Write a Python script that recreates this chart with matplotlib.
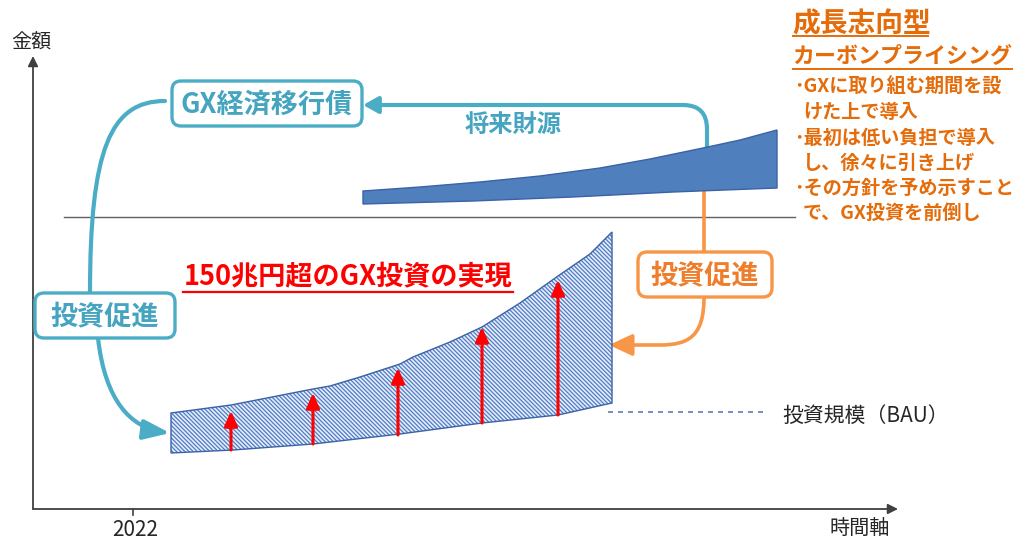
import matplotlib
matplotlib.use('Agg')
import matplotlib.pyplot as plt
from matplotlib.patches import FancyBboxPatch, FancyArrowPatch
from matplotlib.path import Path

plt.rcParams['font.family'] = ['Noto Sans CJK JP', 'DejaVu Sans']
plt.rcParams['hatch.linewidth'] = 0.9

# ---------------- data (diagram units) ----------------
# GX investment band (hatched)
gx_upper_x = [171, 231, 313, 330, 360, 400, 413, 450, 482, 520, 558, 590, 612]
gx_upper_y = [413, 405, 389, 386, 377, 364, 357, 342, 327, 303, 276, 254, 232]
bau_x = [171, 233, 313, 400, 482, 558, 612]
bau_y = [453, 450, 444, 434, 423, 415, 403]

# future funding band (solid)
fund_upper_x = [363, 420, 480, 540, 600, 650, 703, 740, 777]
fund_upper_y = [191, 187, 182, 176, 168, 159, 148, 140, 130]
fund_lower_x = [363, 473, 573, 673, 777]
fund_lower_y = [204, 201, 197, 192, 188]

# red arrows (increase of investment)
arrow_x = [231, 313, 398, 482, 558]
arrow_base = [450, 444, 435, 423, 415]
arrow_tip = [411, 393, 368, 327, 280]

tick_label = '2022'
y_label = '金額'
x_label = '時間軸'
bau_label = '投資規模（BAU）'
bond_label = 'GX経済移行債'
fund_label = '将来財源'
promote_label = '投資促進'
title_label = '150兆円超のGX投資の実現'
cp_title = ['成長志向型', 'カーボンプライシング']
cp_lines = ['･GXに取り組む期間を設', 'けた上で導入', '･最初は低い負担で導入',
            'し、徐々に引き上げ', '･その方針を予め示すこと', 'で、GX投資を前倒し']

TEAL = '#4bacc6'
TEAL_TXT = '#45a5c0'
ORANGE = '#f79646'
ORANGE_TXT = '#e46c0a'
BLUE = '#4f7fbc'
BLUE_EDGE = '#3a62a6'
DARK = '#262626'

fig = plt.figure(figsize=(10.16, 5.39), dpi=100)
ax = fig.add_axes([0, 0, 1, 1])
ax.set_xlim(0, 1016)
ax.set_ylim(539, 0)
ax.axis('off')

# ---------------- axes of the diagram ----------------
ax.add_patch(FancyArrowPatch((33, 509), (33, 56), arrowstyle='-|>,head_length=0.6,head_width=0.3',
                             mutation_scale=10, lw=1.3, color='#404040', shrinkA=0, shrinkB=0))
ax.add_patch(FancyArrowPatch((33, 509), (898, 509), arrowstyle='-|>,head_length=0.6,head_width=0.3',
                             mutation_scale=10, lw=1.3, color='#404040', shrinkA=0, shrinkB=0))
ax.plot([133, 133], [509, 515], color='#404040', lw=1.2)
ax.text(135, 530, tick_label, ha='center', va='center', fontsize=15, color=DARK)
ax.text(31, 43, y_label, ha='center', va='center', fontsize=14.5, color=DARK)
ax.text(860, 528, x_label, ha='center', va='center', fontsize=14.5, color=DARK)

# divider line
ax.plot([64, 795], [217, 217], color='#606060', lw=1.0)

# ---------------- bands ----------------
ax.fill(fund_upper_x + fund_lower_x[::-1], fund_upper_y + fund_lower_y[::-1],
        facecolor=BLUE, edgecolor=BLUE_EDGE, lw=1.0, zorder=3)

gx_poly_x = gx_upper_x + bau_x[::-1]
gx_poly_y = gx_upper_y + bau_y[::-1]
ax.fill(gx_poly_x, gx_poly_y, facecolor='#e6edf8', edgecolor='#4f7cc6', hatch='\\' * 8,
        lw=0, zorder=3)
ax.fill(gx_poly_x, gx_poly_y, facecolor='none', edgecolor=BLUE_EDGE, lw=1.0, zorder=3)

for x, b, t in zip(arrow_x, arrow_base, arrow_tip):
    ax.add_patch(FancyArrowPatch((x, b), (x, t), arrowstyle='-|>,head_length=0.9,head_width=0.4',
                                 mutation_scale=10, lw=2.2, color='#ff0000', shrinkA=0, shrinkB=0,
                                 zorder=5))

# BAU dashed line
ax.plot([608, 765], [412, 412], color='#5b7db1', lw=1.2, dashes=(3, 3))
ax.text(782, 416, bau_label, ha='left', va='center', fontsize=15, color=DARK)

# ---------------- teal connectors ----------------
top_path = Path([(707, 148), (707, 129), (707, 105), (683, 105), (363, 105)],
                [Path.MOVETO, Path.LINETO, Path.CURVE3, Path.CURVE3, Path.LINETO])
ax.add_patch(FancyArrowPatch(path=top_path, arrowstyle='-|>,head_length=0.9,head_width=0.5',
                             mutation_scale=10, lw=3, color=TEAL, shrinkA=0, shrinkB=0, zorder=2))
ax.text(513, 125, fund_label, ha='center', va='center', fontsize=17.5, fontweight='bold', color=TEAL_TXT)

left_path = Path([(165, 101), (110, 101), (90, 150), (90, 293)],
                 [Path.MOVETO, Path.CURVE4, Path.CURVE4, Path.CURVE4])
ax.add_patch(FancyArrowPatch(path=left_path, arrowstyle='-', lw=3, color=TEAL, zorder=2))
low_path = Path([(98, 338), (105, 400), (130, 428), (170, 433)],
                [Path.MOVETO, Path.CURVE4, Path.CURVE4, Path.CURVE4])
ax.add_patch(FancyArrowPatch(path=low_path, arrowstyle='-|>,head_length=1.6,head_width=0.6',
                             mutation_scale=10, lw=3, color=TEAL, shrinkA=0, shrinkB=0, zorder=2))

# ---------------- orange connector ----------------
ax.plot([704, 704], [192, 252], color=ORANGE, lw=2.6, zorder=2)
or_path = Path([(704, 297), (704, 335), (690, 345), (660, 345), (609, 345)],
               [Path.MOVETO, Path.CURVE4, Path.CURVE4, Path.CURVE4, Path.LINETO])
ax.add_patch(FancyArrowPatch(path=or_path, arrowstyle='-|>,head_length=1.4,head_width=0.65',
                             mutation_scale=10, lw=2.6, color=ORANGE, shrinkA=0, shrinkB=0, zorder=2))

# ---------------- boxes ----------------
def rbox(x0, y0, x1, y1, ec, text, tc, fs):
    ax.add_patch(FancyBboxPatch((x0, y0), x1 - x0, y1 - y0,
                                boxstyle='round,pad=0,rounding_size=9',
                                facecolor='white', edgecolor=ec, lw=2.4, zorder=6))
    ax.text((x0 + x1) / 2, (y0 + y1) / 2 + 1, text, ha='center', va='center', fontsize=fs,
            fontweight='bold', color=tc, zorder=7)

rbox(172, 81, 362, 126, TEAL, bond_label, TEAL_TXT, 19.5)
rbox(35, 293, 175, 338, TEAL, promote_label, TEAL_TXT, 19.5)
rbox(638, 252, 772, 297, ORANGE, promote_label, '#ee7d2c', 19.5)

# ---------------- red title ----------------
ax.text(348, 277, title_label, ha='center', va='center', fontsize=19.5, fontweight='bold',
        color='#ff0000', zorder=7)
ax.plot([183, 513], [292, 292], color='#ff0000', lw=1.6, zorder=7)

# ---------------- carbon pricing text ----------------
ax.text(792, 24, cp_title[0], ha='left', va='center', fontsize=20, fontweight='bold', color=ORANGE_TXT)
ax.plot([793, 928], [36, 36], color=ORANGE_TXT, lw=1.4)
ax.text(792, 56, cp_title[1], ha='left', va='center', fontsize=15.8, fontweight='bold', color=ORANGE_TXT)
ax.plot([793, 1012], [69, 69], color=ORANGE_TXT, lw=1.4)
line_y = [87, 112, 138, 163, 188, 213]
for s, y in zip(cp_lines, line_y):
    x = 794 if s.startswith('･') else 803
    ax.text(x, y, s, ha='left', va='center', fontsize=13.8, fontweight='bold', color=ORANGE_TXT)

fig.savefig('out.png', dpi=100)
